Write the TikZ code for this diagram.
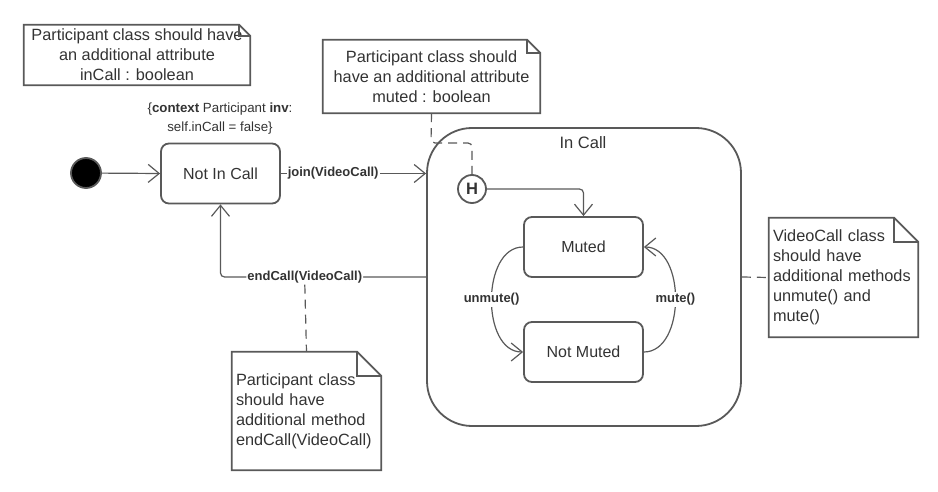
\documentclass[tikz,border=0pt]{standalone}
\usepackage{fontspec}
\setmainfont{Liberation Sans}
\usetikzlibrary{arrows.meta,calc}
\definecolor{linec}{HTML}{595959}
\definecolor{textc}{HTML}{333333}
\tikzset{
  statebox/.style={draw=linec, line width=1.8pt, rounded corners=8pt, text=textc,
    font=\fontsize{16}{19}\selectfont, minimum width=119pt, minimum height=60pt, inner sep=0pt},
  notebox/.style={draw=none, text=textc, font=\fontsize{16.3}{20}\selectfont, inner sep=0pt},
  noteline/.style={draw=linec, line width=1.8pt, line join=miter},
  trans/.style={draw=linec, line width=1.2pt, -{Straight Barb[length=11pt,width=18pt,line width=1.2pt]}},
  lbl/.style={font=\bfseries\fontsize{13}{15}\selectfont, text=textc, fill=white, inner sep=1pt},
  dashline/.style={draw=linec, line width=1.2pt, dash pattern=on 9pt off 6pt},
}
\newcommand{\notefold}[2]{%
  \draw[noteline] (#1.north west) -- ($(#1.north east)+(-#2pt,0pt)$) -- ($(#1.north east)+(0pt,-#2pt)$) -- (#1.south east) -- (#1.south west) -- cycle;
  \draw[noteline] ($(#1.north east)+(-#2pt,0pt)$) -- ($(#1.north east)+(-#2pt,-#2pt)$) -- ($(#1.north east)+(0pt,-#2pt)$);
}
\begin{document}
\begin{tikzpicture}[x=1pt,y=-1pt]
\useasboundingbox (0,0) rectangle (938,492);
% notes
\node[notebox, minimum width=226pt, minimum height=60pt, align=center] (note1) at (137,55)
  {Participant class should have\\an additional attribute\\inCall : boolean};
\notefold{note1}{11}
\node[notebox, minimum width=217pt, minimum height=73pt, align=center] (note2) at (431.5,76.5)
  {Participant class should\\have an additional attribute\\muted : boolean};
\notefold{note2}{13}
\node[notebox, minimum width=149pt, minimum height=118pt, text width=141pt, align=left] (note3) at (306.5,411)
  {Participant class\\should have\\additional method\\endCall(VideoCall)};
\notefold{note3}{24}
\node[notebox, minimum width=149pt, minimum height=119pt, text width=141pt, align=left] (note4) at (843.5,277.5)
  {VideoCall class\\should have\\additional methods\\unmute() and\\mute()};
\notefold{note4}{24}
% constraint
\node[text=textc, font=\fontsize{13.3}{19}\selectfont, align=center] (inv) at (220,119)
  {\{\textbf{context} Participant \textbf{inv}:\\self.inCall = false\}};
% states
\node[circle, fill=black, draw=linec, line width=1.8pt, minimum size=30pt, inner sep=0pt] (init) at (86,173) {};
\node[statebox] (notincall) at (220.5,173.5) {Not In Call};
\node[draw=linec, line width=1.8pt, rounded corners=45pt, minimum width=314pt, minimum height=298pt, inner sep=0pt] (incall) at (584,277) {};
\node[text=textc, font=\fontsize{16.5}{19}\selectfont] (incalltitle) at (583,143) {In Call};
\node[circle, draw=linec, line width=1.8pt, minimum size=28pt, inner sep=0pt, text=textc, font=\bfseries\fontsize{16.5}{18}\selectfont] (hist) at (472,189) {H};
\node[statebox] (muted) at (583.5,247) {Muted};
\node[statebox] (notmuted) at (583.5,352) {Not Muted};
% transitions
\draw[trans] (init) -- (notincall.west);
\draw[trans] (notincall.east) -- (notincall.east -| incall.west)
  node[lbl, pos=0.36] (joinlbl) {join(VideoCall)};
\draw[trans, rounded corners=4pt] (hist.east) -| (muted.north);
\draw[trans] (muted.west) .. controls +(-42pt,0pt) and +(-42pt,0pt) .. (notmuted.west)
  node[lbl, midway] (unmutelbl) {unmute()};
\draw[trans] (notmuted.east) .. controls +(42pt,0pt) and +(42pt,0pt) .. (muted.east)
  node[lbl, midway] (mutelbl) {mute()};
\draw[trans, rounded corners=4pt] (incall.west) -| (notincall.south)
  node[lbl, pos=0.295] (endlbl) {endCall(VideoCall)};
% note anchors
\coordinate (nbend) at (431,143);
\draw[dashline, rounded corners=4pt] (note2.south) -- (nbend) -| (hist.north);
\draw[dashline] (endlbl.south) -- (note3.north);
\draw[dashline] (incall.east) -- (note4.west);
\end{tikzpicture}
\end{document}
